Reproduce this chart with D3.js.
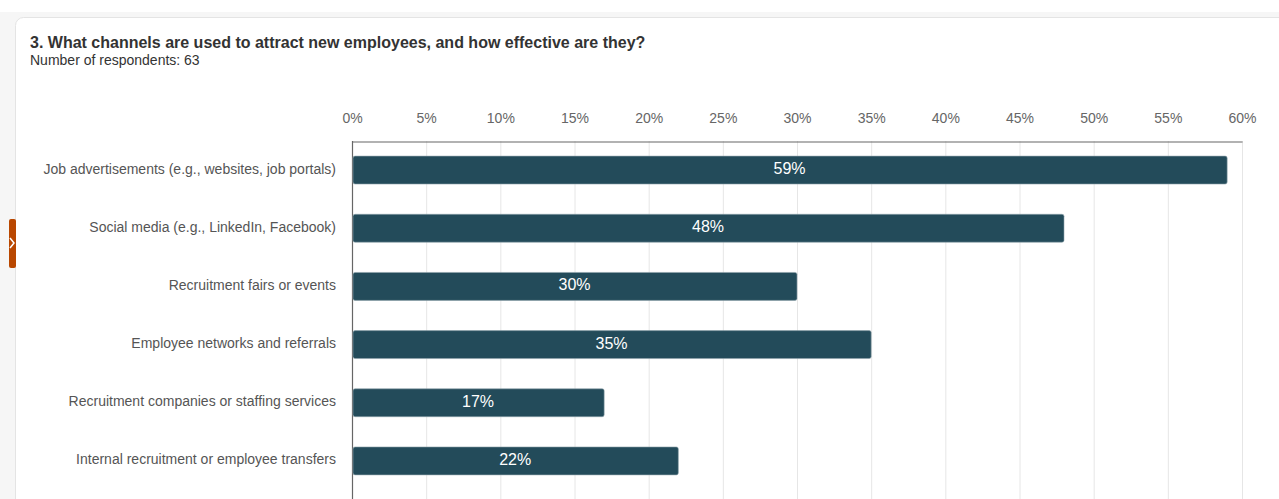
<!DOCTYPE html>
<html>
<head>
<meta charset="utf-8">
<script src="https://cdn.jsdelivr.net/npm/d3@7"></script>
<style>
  html, body { margin: 0; padding: 0; background: #fff; overflow: hidden; }
  body { width: 1279px; height: 499px; font-family: "Liberation Sans", Arial, sans-serif; }
</style>
</head>
<body>
<svg id="chart" width="1279" height="499"></svg>
<script>
// Survey channels and share of respondents using each one
const categories = [
  "Job advertisements (e.g., websites, job portals)",
  "Social media (e.g., LinkedIn, Facebook)",
  "Recruitment fairs or events",
  "Employee networks and referrals",
  "Recruitment companies or staffing services",
  "Internal recruitment or employee transfers"
];
const values = [59, 48, 30, 35, 17, 22];
const tickValues = [0, 5, 10, 15, 20, 25, 30, 35, 40, 45, 50, 55, 60];

const title = "3. What channels are used to attract new employees, and how effective are they?";
const subtitle = "Number of respondents: 63";

const svg = d3.select("#chart");

// Page background and card
svg.append("rect").attr("x", 0).attr("y", 12).attr("width", 1279).attr("height", 487).attr("fill", "#f6f6f6");
svg.append("rect")
  .attr("x", 15.5).attr("y", 17.5).attr("width", 1275).attr("height", 500)
  .attr("rx", 8).attr("fill", "#fff").attr("stroke", "#e4e4e4");

// Side tab
svg.append("rect").attr("x", 9).attr("y", 219).attr("width", 7).attr("height", 49).attr("rx", 2).attr("fill", "#b94700");
svg.append("path").attr("d", "M10,238 L14,243 L10,248").attr("fill", "none").attr("stroke", "#fff").attr("stroke-width", 1.5);

// Titles
svg.append("text").attr("x", 30).attr("y", 48)
  .attr("font-size", 16).attr("font-weight", "bold").attr("fill", "#333").text(title);
svg.append("text").attr("x", 30).attr("y", 65)
  .attr("font-size", 14).attr("fill", "#333").text(subtitle);

const plotLeft = 352, plotRight = 1242, plotTop = 141, plotBottom = 490;

const x = d3.scaleLinear().domain([0, 60]).range([plotLeft, plotRight]);
const y = d3.scaleBand().domain(categories).range([plotTop, plotBottom]).paddingInner(0.52).paddingOuter(0.26);

// Vertical gridlines
svg.append("g").selectAll("line").data(tickValues.slice(1)).join("line")
  .attr("x1", d => x(d) + 0.5).attr("x2", d => x(d) + 0.5)
  .attr("y1", plotTop).attr("y2", 499)
  .attr("stroke", "#e6e6e6").attr("stroke-width", 1);

// Top axis with percent labels
const axis = svg.append("g").attr("transform", `translate(0,${plotTop + 0.5})`)
  .call(d3.axisTop(x).tickValues(tickValues).tickFormat(d => d + "%").tickSize(0).tickPadding(19));
axis.select(".domain").attr("stroke", "#666").attr("stroke-width", 1.2);
axis.selectAll("text").attr("font-size", 14).attr("fill", "#666")
  .attr("font-family", "'Liberation Sans', Arial, sans-serif");

// Left axis line
svg.append("line").attr("x1", plotLeft + 0.5).attr("x2", plotLeft + 0.5).attr("y1", plotTop).attr("y2", 499)
  .attr("stroke", "#666").attr("stroke-width", 1.2);

// Category labels
svg.append("g").selectAll("text").data(categories).join("text")
  .attr("x", 336).attr("y", d => y(d) + y.bandwidth() / 2)
  .attr("dy", "0.25em").attr("text-anchor", "end")
  .attr("font-size", 14).attr("fill", "#555").text(d => d);

// Bars
const rows = categories.map((c, i) => ({ c, v: values[i] }));
svg.append("g").selectAll("rect").data(rows).join("rect")
  .attr("x", x(0) + 1).attr("y", d => y(d.c))
  .attr("width", d => x(d.v) - x(0) - 1).attr("height", y.bandwidth())
  .attr("rx", 2).attr("fill", "#234b5a").attr("stroke", "#8fa3ab").attr("stroke-width", 0.6);

// Value labels inside bars
svg.append("g").selectAll("text").data(rows).join("text")
  .attr("x", d => (x(0) + x(d.v)) / 2).attr("y", d => y(d.c) + y.bandwidth() / 2)
  .attr("dy", "0.25em").attr("text-anchor", "middle")
  .attr("font-size", 16).attr("font-weight", 500).attr("fill", "#fff").text(d => d.v + "%");
</script>
</body>
</html>
